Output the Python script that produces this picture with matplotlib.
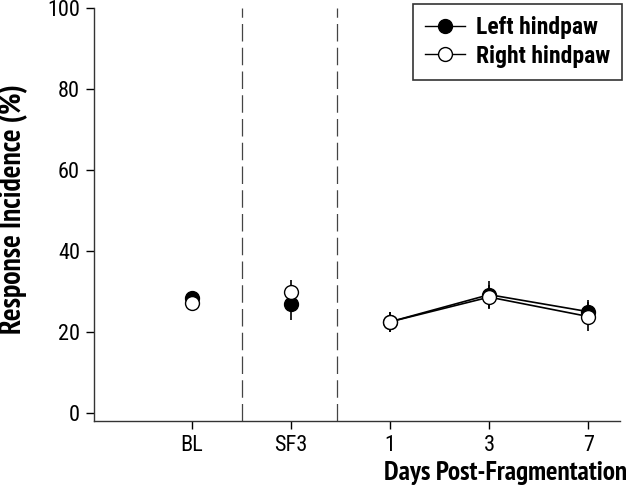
import numpy as np
import matplotlib
matplotlib.use("Agg")
import matplotlib.pyplot as plt

# data
groups = ["BL", "SF3", "1", "3", "7"]
left_mean = [28.5, 27.0, 22.5, 29.2, 25.0]
left_sem = [1.0, 4.0, 2.5, 3.3, 3.0]
right_mean = [27.2, 29.8, 22.5, 28.6, 23.8]
right_sem = [1.0, 3.0, 2.5, 3.0, 3.5]
n_connected = 3  # only post-fragmentation days are joined by lines

plt.rcParams["font.family"] = ["Roboto Condensed", "Liberation Sans", "DejaVu Sans"]
label_font = ["PT Sans Narrow", "Roboto Condensed", "DejaVu Sans"]

fig = plt.figure(figsize=(6.28, 4.91), dpi=100)
ax = fig.add_axes([94/628, 70/491, 526/628, 413/491])

x = np.arange(len(groups))
xd = x[-n_connected:]

# error bars (no caps)
ax.errorbar(x, left_mean, yerr=left_sem, fmt="none", ecolor="black", elinewidth=1.2, capsize=0, zorder=2)
ax.errorbar(x, right_mean, yerr=right_sem, fmt="none", ecolor="black", elinewidth=1.2, capsize=0, zorder=2)

ax.plot(xd, left_mean[-n_connected:], color="black", lw=1.2, zorder=3)
ax.plot(xd, right_mean[-n_connected:], color="black", lw=1.2, zorder=3)
ax.plot(x, left_mean, "o", ms=10, mfc="black", mec="black", mew=1.0, zorder=4)
ax.plot(x, right_mean, "o", ms=10, mfc="white", mec="black", mew=1.0, zorder=5)

h1, = ax.plot([], [], "-o", color="black", ms=10, mfc="black", mec="black", lw=1.0)
h2, = ax.plot([], [], "-o", color="black", ms=10, mfc="white", mec="black", lw=1.0)

for xv in [0.5, 1.46]:
    ax.axvline(xv, color="#444444", lw=0.9, dashes=(14, 5), zorder=1)

ax.set_xlim(-0.99, 4.32)
ax.set_ylim(-2, 100)
ax.set_yticks([0, 20, 40, 60, 80, 100])
ax.set_xticks(x)
ax.set_xticklabels(groups)
ax.tick_params(direction="out", length=6, width=1, labelsize=16, colors="black")
ax.tick_params(axis="y", pad=4)
ax.tick_params(axis="x", pad=4)
for s in ["top", "right"]:
    ax.spines[s].set_visible(False)
for s in ["left", "bottom"]:
    ax.spines[s].set_linewidth(1.0)
    ax.spines[s].set_color("#333333")

fig.text(13/628, 1 - 209/491, "Response Incidence (%)", rotation=90, ha="center", va="center",
         fontsize=21.5, fontweight="bold", family=label_font)
fig.text(627/628, 1 - 473/491, "Days Post-Fragmentation", ha="right", va="center",
         fontsize=19.5, fontweight="bold", family=label_font)

leg = ax.legend([h1, h2], ["Left hindpaw", "Right hindpaw"], loc="upper right",
                bbox_to_anchor=(622/628, 1 - 4/491), bbox_transform=fig.transFigure,
                borderaxespad=0, fancybox=False, edgecolor="#333333", framealpha=1,
                prop={"weight": "bold", "size": 17}, handlelength=1.7, handletextpad=0.45,
                borderpad=0.5, labelspacing=0.25)
leg.get_frame().set_linewidth(1.2)

fig.savefig("out.png", dpi=100)
